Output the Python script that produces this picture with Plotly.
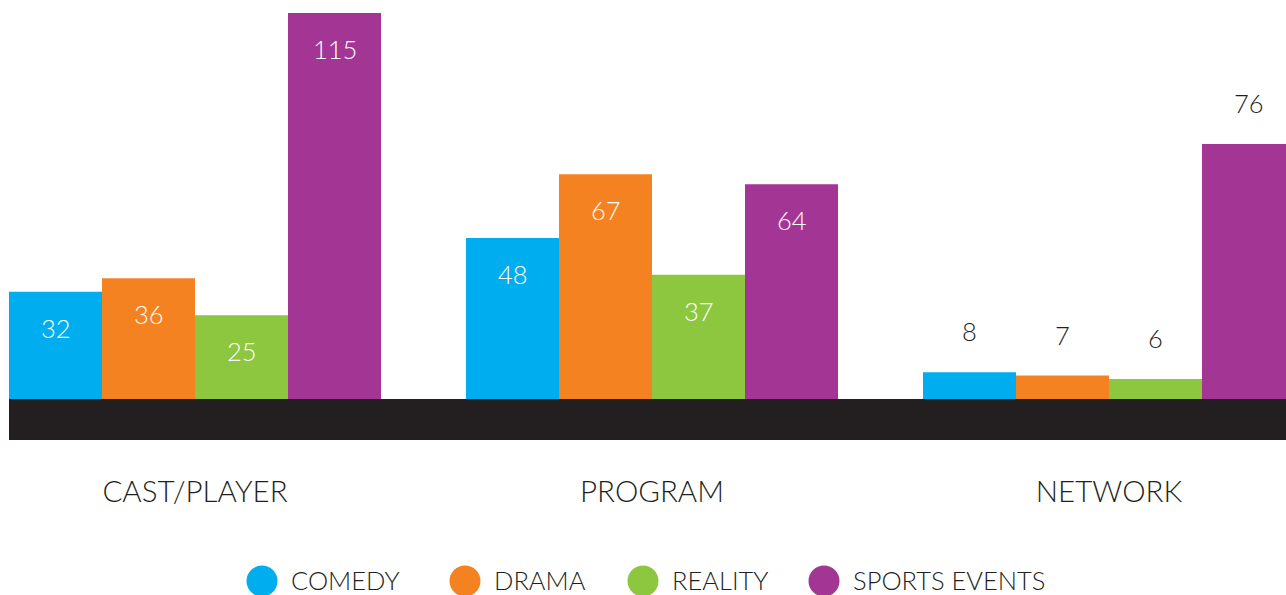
import plotly.graph_objects as go

categories = ["CAST/PLAYER", "PROGRAM", "NETWORK"]
series_names = ["COMEDY", "DRAMA", "REALITY", "SPORTS EVENTS"]
comedy = [32, 48, 8]
drama = [36, 67, 7]
reality = [25, 37, 6]
sports = [115, 64, 76]

series_values = [comedy, drama, reality, sports]
colors = ["#00AEEF", "#F58220", "#8DC63F", "#A33694"]
dark = "#231F20"
font_family = "Lato, 'Open Sans', sans-serif"
font_weight = 300

W, H = 1286, 595
ML, MR, MT, MB = 9, 0, 0, 155
plot_w = W - ML - MR
plot_h = H - MT - MB

bar_w = 0.2035
label_inside = [True, True, False]  # per category: label placement

fig = go.Figure()
annotations = []
n = len(series_names)
for j, (name, vals, col) in enumerate(zip(series_names, series_values, colors)):
    xs = [i + (j - (n - 1) / 2) * bar_w for i in range(len(categories))]
    fig.add_trace(go.Bar(
        x=xs, y=vals, width=bar_w, name=name,
        marker=dict(color=col, line=dict(width=0)),
        showlegend=False, hoverinfo="y",
    ))
    for i, (x, v) in enumerate(zip(xs, vals)):
        inside = label_inside[i]
        annotations.append(dict(
            x=x, y=v, xref="x", yref="y", text=str(v), showarrow=False,
            yanchor="middle", xanchor="center",
            yshift=-36 if inside else 41,
            font=dict(family=font_family, size=25.5, weight=font_weight,
                      color="white" if inside else dark),
        ))

y_min, y_max = -12.2, 118.9
x_min = -(n / 2) * bar_w
x_max = x_min + plot_w / 457.0

# baseline band
shapes = [dict(type="rect", xref="paper", yref="y", x0=0, x1=1, y0=y_min, y1=0,
               fillcolor=dark, line=dict(width=0), layer="below")]

# custom legend (large circular swatches)
legend_px = [262, 465, 643, 824]
legend_py = 581
for name, col, px in zip(series_names, colors, legend_px):
    xp = (px - ML) / plot_w
    yp = (plot_h + MT - legend_py) / plot_h
    shapes.append(dict(type="circle", xref="paper", yref="paper",
                       xsizemode="pixel", ysizemode="pixel",
                       xanchor=xp, yanchor=yp, x0=-15.5, x1=15.5, y0=-15.5, y1=15.5,
                       fillcolor=col, line=dict(width=0)))
    annotations.append(dict(x=xp, y=yp, xref="paper", yref="paper", text=name,
                            showarrow=False, xanchor="left", yanchor="middle",
                            xshift=27, yshift=1.5,
                            font=dict(family=font_family, size=25.5, weight=font_weight,
                                      color=dark)))

fig.update_layout(
    width=W, height=H,
    margin=dict(l=ML, r=MR, t=MT, b=MB, pad=0),
    paper_bgcolor="white", plot_bgcolor="white",
    barmode="overlay",
    showlegend=False,
    xaxis=dict(range=[x_min, x_max], tickmode="array", tickvals=list(range(len(categories))),
               ticktext=categories, showgrid=False, zeroline=False, showline=False,
               ticks="", ticklabelstandoff=31,
               tickfont=dict(family=font_family, size=29.5, weight=font_weight, color=dark),
               fixedrange=True),
    yaxis=dict(range=[y_min, y_max], visible=False, showgrid=False, zeroline=False,
               fixedrange=True),
    shapes=shapes,
    annotations=annotations,
)

fig.write_html("out.html", config={"displayModeBar": False},
               post_script="document.body.style.margin='0';document.body.style.overflow='hidden';")
